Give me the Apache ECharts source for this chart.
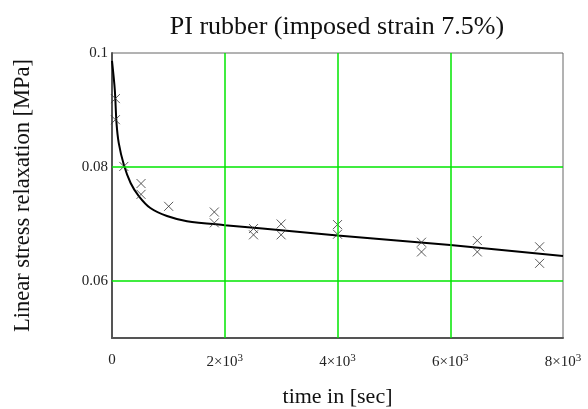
<!DOCTYPE html>
<html>
<head>
  <meta charset="utf-8">
  <script type="text/javascript" src="https://cdn.jsdelivr.net/npm/echarts@6/dist/echarts.min.js"></script>
  <style>
    body{ margin:0; background:#fff; }
  </style>
</head>
<body>
  <div id="main" style="width: 588px;height: 409px;"></div>
  <script>
    // fitted curve
    var fitTime = [0, 50, 80, 120, 210, 330, 475, 680, 975, 1330, 2000, 3335, 4000, 6000, 8000];
    var fitStress = [0.0986, 0.0935, 0.0877, 0.0842, 0.0804, 0.0772, 0.0749, 0.0728, 0.0714, 0.0705, 0.0698, 0.0686, 0.0680, 0.0663, 0.0644];

    // measured points
    var measTime = [60, 60, 210, 515, 515, 1005, 1815, 1815, 2510, 2510, 3000, 3000, 4000, 4000, 5490, 5490, 6480, 6480, 7585, 7585];
    var measStress = [0.0920, 0.0883, 0.0801, 0.0771, 0.0752, 0.0731, 0.0721, 0.0702, 0.0692, 0.0681, 0.0700, 0.0681, 0.0699, 0.0682, 0.0668, 0.0651, 0.0671, 0.0651, 0.0660, 0.0631];

    var xGridLines = [2000, 4000, 6000];
    var yGridLines = [0.06, 0.08];
    var yLabels = [0.06, 0.08, 0.1];

    var chart = echarts.init(document.getElementById('main'));
    var serif = '"Liberation Serif", "DejaVu Serif", serif';

    var fitData = fitTime.map(function (t, i) { return [t, fitStress[i]]; });
    var measData = measTime.map(function (t, i) { return [t, measStress[i]]; });

    var gridMarks = [];
    xGridLines.forEach(function (v) { gridMarks.push({ xAxis: v }); });
    yGridLines.forEach(function (v) { gridMarks.push({ yAxis: v }); });

    var option = {
      animation: false,
      title: {
        text: 'PI rubber (imposed strain 7.5%)',
        left: 332,
        textAlign: 'center',
        top: 9,
        textStyle: { fontFamily: serif, fontSize: 26, fontWeight: 'normal', color: '#111' }
      },
      grid: {
        left: 112, right: 25, top: 53, bottom: 71,
        outerBoundsMode: 'none',
        show: true, borderColor: '#666', borderWidth: 1, backgroundColor: 'transparent'
      },
      xAxis: {
        type: 'value',
        min: 0, max: 8000, interval: 2000,
        name: 'time in [sec]',
        nameLocation: 'middle',
        nameGap: 48,
        nameTextStyle: { fontFamily: serif, fontSize: 22, color: '#111' },
        axisLine: { show: true, lineStyle: { color: '#555', width: 2 } },
        axisTick: { show: false },
        splitLine: { show: false },
        axisLabel: {
          margin: 15,
          fontFamily: serif, fontSize: 15, color: '#222',
          formatter: function (v) {
            if (v === 0) return '0';
            return '{b|' + (v / 1000) + '×10}{s|3}';
          },
          rich: {
            b: { fontFamily: serif, fontSize: 15, color: '#222' },
            s: { fontFamily: serif, fontSize: 11, color: '#222', verticalAlign: 'top', padding: [0, 0, 8, 0] }
          }
        }
      },
      yAxis: {
        type: 'value',
        min: 0.05, max: 0.1, interval: 0.01,
        name: 'Linear stress relaxation [MPa]',
        nameLocation: 'middle',
        nameGap: 77,
        nameTextStyle: { fontFamily: serif, fontSize: 22.5, color: '#111' },
        axisLine: { show: true, lineStyle: { color: '#555', width: 2 } },
        axisTick: { show: false },
        splitLine: { show: false },
        axisLabel: {
          margin: 4,
          fontFamily: serif, fontSize: 15, color: '#222',
          formatter: function (v) {
            for (var i = 0; i < yLabels.length; i++) {
              if (Math.abs(v - yLabels[i]) < 1e-9) return String(yLabels[i]);
            }
            return '';
          }
        }
      },
      series: [{
        type: 'line',
        data: fitData,
        smooth: 0.3,
        showSymbol: false,
        lineStyle: { color: '#000', width: 2 },
        z: 3,
        markLine: {
          silent: true,
          symbol: 'none',
          label: { show: false },
          lineStyle: { color: '#00e600', width: 1.5, type: 'solid', opacity: 1 },
          emphasis: { disabled: true },
          data: gridMarks
        }
      }, {
        type: 'scatter',
        data: measData,
        symbol: 'path://M0,0L10,10M10,0L0,10',
        symbolSize: 9,
        itemStyle: { color: 'transparent', borderColor: '#333', borderWidth: 1 },
        z: 4
      }]
    };
    chart.setOption(option);
  </script>
</body>
</html>
